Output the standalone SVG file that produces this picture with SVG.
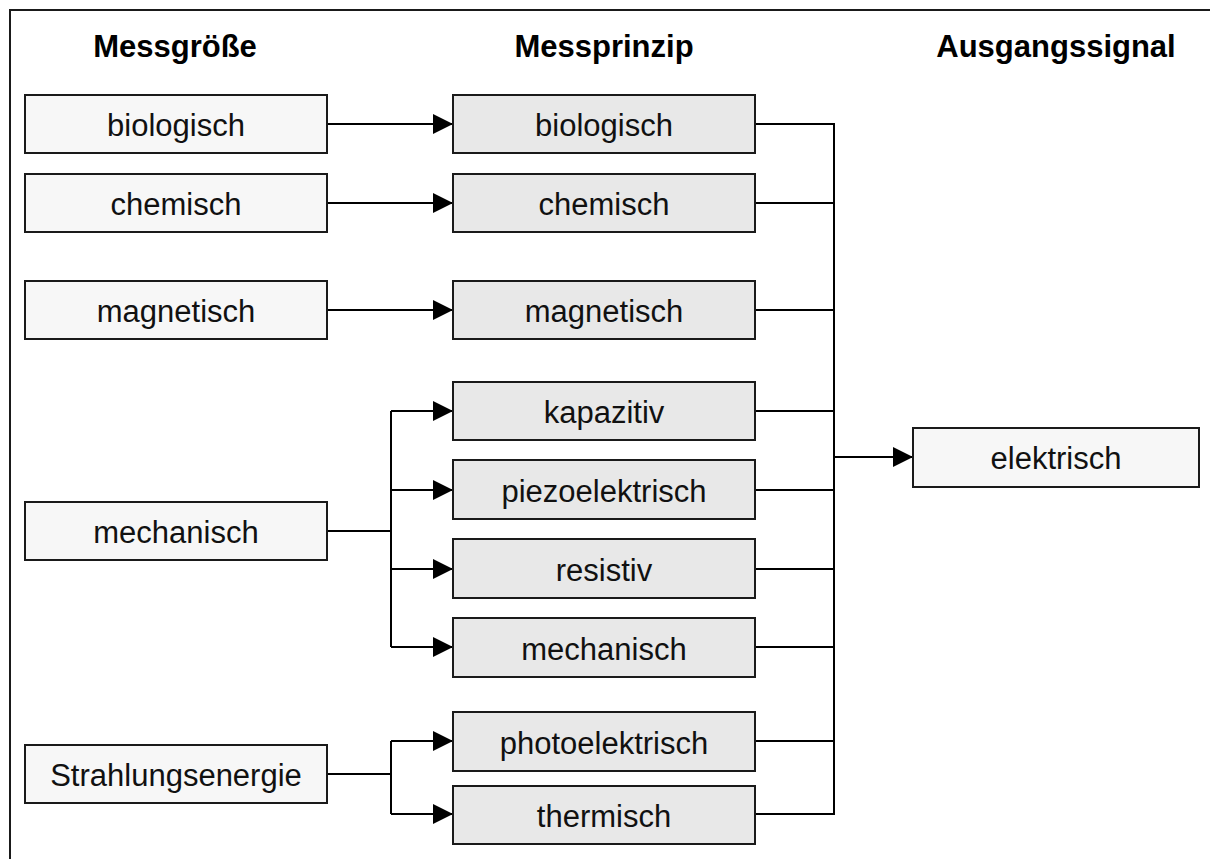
<svg xmlns="http://www.w3.org/2000/svg" width="1210" height="859" viewBox="0 0 1210 859">
<style>
.box{stroke:#1a1a1a;stroke-width:2}
.src{fill:#f7f7f7}
.mid{fill:#e8e8e8}
.lbl{font-family:"Liberation Sans",Arial,sans-serif;font-size:31px;fill:#111;text-anchor:middle}
.hdr{font-family:"Liberation Sans",Arial,sans-serif;font-size:31px;font-weight:bold;fill:#000;text-anchor:middle}
.con{fill:none;stroke:#000;stroke-width:2}
</style>
<defs>
<marker id="arr" markerUnits="userSpaceOnUse" markerWidth="20" markerHeight="20" refX="20" refY="10" orient="auto">
<path d="M0,0 L20,10 L0,20 Z" fill="#000"/>
</marker>
</defs>
<rect width="1210" height="859" fill="#fff"/>
<g id="frame">
<path d="M10,859 V10 H1210" fill="none" stroke="#1a1a1a" stroke-width="2"/>
</g>
<g id="headers">
<text class="hdr" x="175" y="57">Messgröße</text>
<text class="hdr" x="604" y="57">Messprinzip</text>
<text class="hdr" x="1056" y="57">Ausgangssignal</text>
</g>
<g id="connectors">
<path class="con" d="M327,124 H453" marker-end="url(#arr)"/>
<path class="con" d="M327,203 H453" marker-end="url(#arr)"/>
<path class="con" d="M327,310 H453" marker-end="url(#arr)"/>
<path class="con" d="M327,531 H391"/>
<path class="con" d="M391,411 V647"/>
<path class="con" d="M391,411 H453" marker-end="url(#arr)"/>
<path class="con" d="M391,490 H453" marker-end="url(#arr)"/>
<path class="con" d="M391,569 H453" marker-end="url(#arr)"/>
<path class="con" d="M391,647 H453" marker-end="url(#arr)"/>
<path class="con" d="M327,774 H391"/>
<path class="con" d="M391,741 V814"/>
<path class="con" d="M391,741 H453" marker-end="url(#arr)"/>
<path class="con" d="M391,814 H453" marker-end="url(#arr)"/>
<path class="con" d="M755,124 H834 M755,203 H834 M755,310 H834 M755,411 H834 M755,490 H834 M755,569 H834 M755,647 H834 M755,741 H834 M755,814 H834"/>
<path class="con" d="M834,123 V815" stroke-width="2.5"/>
<path class="con" d="M834,457 H913" stroke-width="3" marker-end="url(#arr)"/>
</g>
<g id="src-biologisch"><rect class="box src" x="25" y="95" width="302" height="58"/><text class="lbl" x="176" y="136">biologisch</text></g>
<g id="src-chemisch"><rect class="box src" x="25" y="174" width="302" height="58"/><text class="lbl" x="176" y="215">chemisch</text></g>
<g id="src-magnetisch"><rect class="box src" x="25" y="281" width="302" height="58"/><text class="lbl" x="176" y="322">magnetisch</text></g>
<g id="src-mechanisch"><rect class="box src" x="25" y="502" width="302" height="58"/><text class="lbl" x="176" y="543">mechanisch</text></g>
<g id="src-strahlung"><rect class="box src" x="25" y="745" width="302" height="58"/><text class="lbl" x="176" y="786">Strahlungsenergie</text></g>
<g id="mid-biologisch"><rect class="box mid" x="453" y="95" width="302" height="58"/><text class="lbl" x="604" y="136">biologisch</text></g>
<g id="mid-chemisch"><rect class="box mid" x="453" y="174" width="302" height="58"/><text class="lbl" x="604" y="215">chemisch</text></g>
<g id="mid-magnetisch"><rect class="box mid" x="453" y="281" width="302" height="58"/><text class="lbl" x="604" y="322">magnetisch</text></g>
<g id="mid-kapazitiv"><rect class="box mid" x="453" y="382" width="302" height="58"/><text class="lbl" x="604" y="423">kapazitiv</text></g>
<g id="mid-piezo"><rect class="box mid" x="453" y="460" width="302" height="59"/><text class="lbl" x="604" y="502">piezoelektrisch</text></g>
<g id="mid-resistiv"><rect class="box mid" x="453" y="539" width="302" height="59"/><text class="lbl" x="604" y="581">resistiv</text></g>
<g id="mid-mechanisch"><rect class="box mid" x="453" y="618" width="302" height="59"/><text class="lbl" x="604" y="660">mechanisch</text></g>
<g id="mid-photo"><rect class="box mid" x="453" y="712" width="302" height="59"/><text class="lbl" x="604" y="754">photoelektrisch</text></g>
<g id="mid-thermisch"><rect class="box mid" x="453" y="786" width="302" height="58"/><text class="lbl" x="604" y="827">thermisch</text></g>
<g id="out-elektrisch"><rect class="box src" x="913" y="428" width="286" height="59"/><text class="lbl" x="1056" y="469">elektrisch</text></g>
</svg>
